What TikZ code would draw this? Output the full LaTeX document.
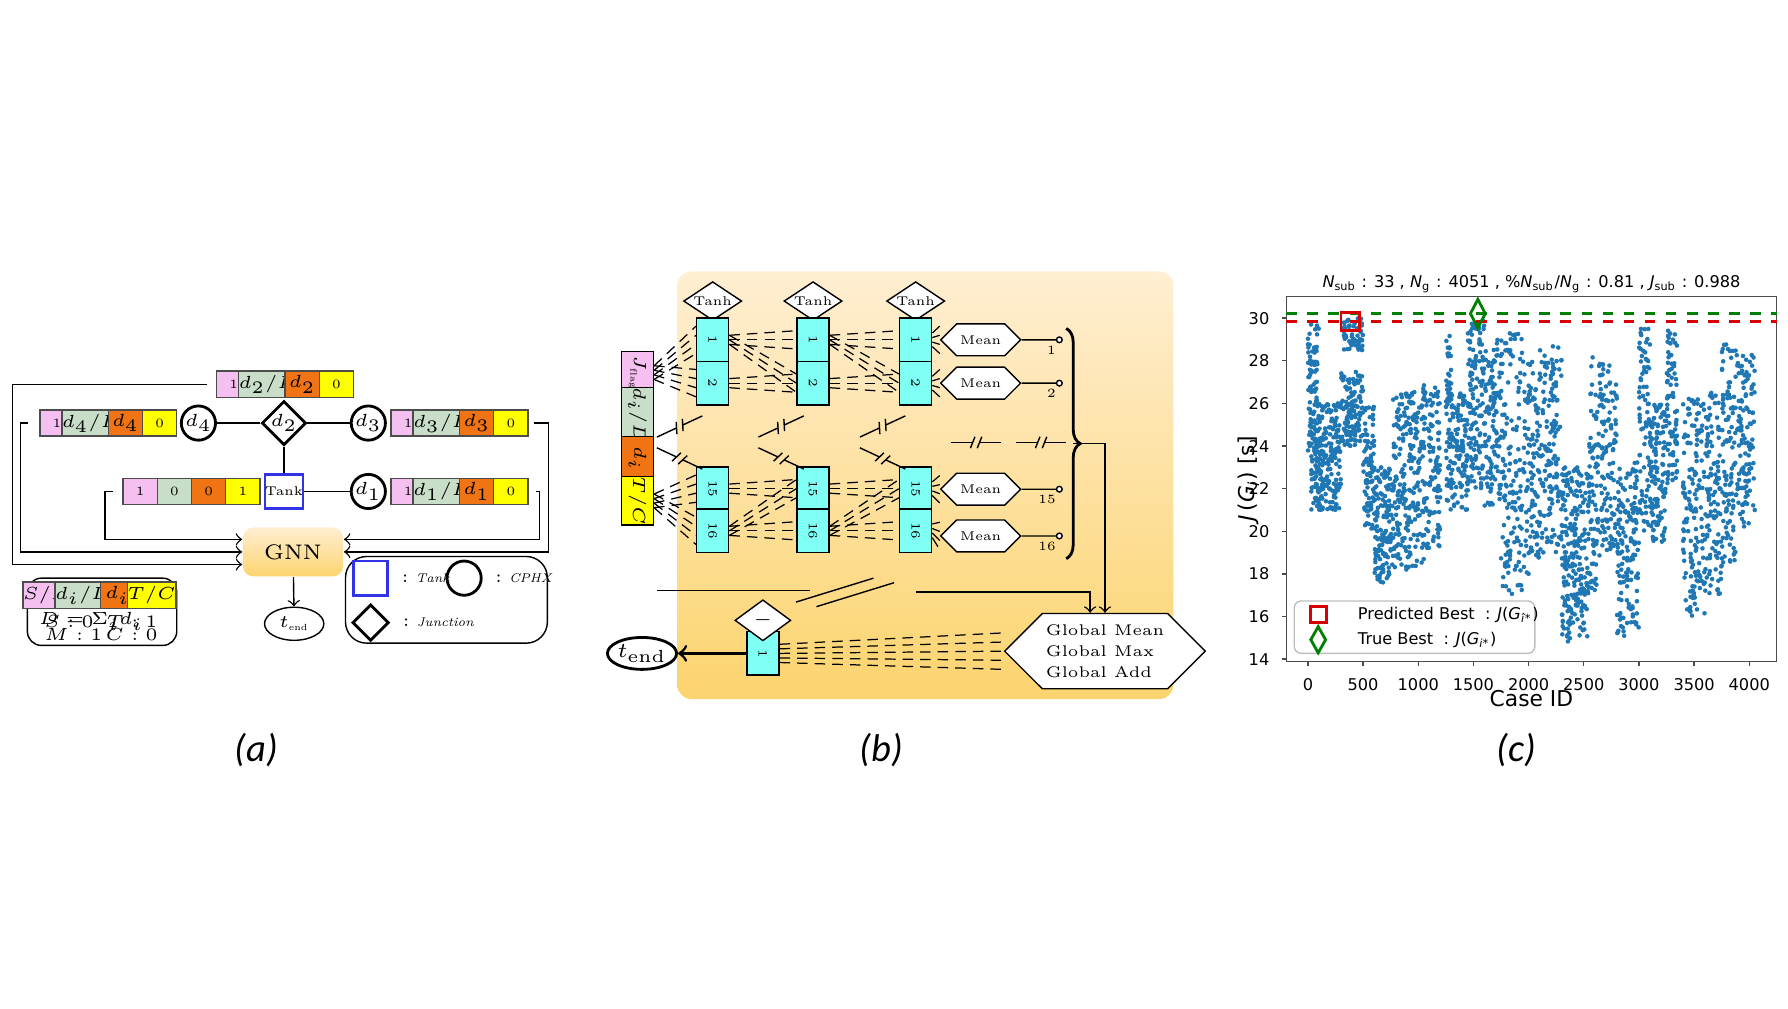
\documentclass[tikz,border=0pt]{standalone}
\usepackage{fontspec}
\newfontfamily\plotfont{DejaVu Sans}
\newfontfamily\capfont{Carlito}
\usetikzlibrary{shapes.geometric,shapes.symbols,decorations.pathreplacing}
\definecolor{pinkc}{RGB}{245,192,240}
\definecolor{greyc}{RGB}{200,222,200}
\definecolor{orangec}{RGB}{240,115,20}
\definecolor{yellowc}{RGB}{255,255,0}
\definecolor{cyanc}{RGB}{128,255,245}
\definecolor{tankc}{RGB}{50,50,230}
\definecolor{bgtop}{RGB}{255,238,210}
\definecolor{bgbot}{RGB}{252,212,110}
\definecolor{dotc}{RGB}{31,119,180}
\newcommand\un{0.11403mm}
\newcommand\featrow[7]{%
\node[cell,fill=pinkc] (#1a) at (#2+15,#3) {#4};
\node[cell,fill=greyc] (#1b) at (#2+45,#3) {#5};
\node[cell,fill=orangec] (#1c) at (#2+75,#3) {#6};
\node[cell,fill=yellowc] (#1d) at (#2+105,#3) {#7};}
\newcommand\fan[3]{%
\foreach \k in {1,...,#3}
\draw[dl] ([yshift={(\k-(#3+1)/2)*4*\un}]#1.east) -- ([yshift={(\k-(#3+1)/2)*8*\un}]#2.west);}
\newcommand\brk[3]{%
\begin{scope}[shift={(#1,#2)},rotate=#3]
\draw (-22,0) -- (-3,0) (3,0) -- (22,0);
\draw (-5,5) -- (-1,-5) (1,5) -- (5,-5);
\end{scope}}
\begin{document}
\begin{tikzpicture}[x=0.11403mm,y=-0.11403mm,
  fa/.style={font=\fontsize{3.6}{4.3}\selectfont},
  cell/.style={draw=black!70,minimum width=30*\un,minimum height=23*\un,inner sep=0pt,fa},
  cphx/.style={draw,thick,circle,minimum size=30*\un,inner sep=0pt,fill=white,fa},
  junc/.style={draw,thick,diamond,minimum width=30*\un,minimum height=30*\un,inner sep=0pt,fill=white,fa},
  unit/.style={draw,fill=cyanc,minimum width=28*\un,minimum height=38*\un,inner sep=0pt,fa},
  feat/.style={draw,minimum width=28*\un,minimum height=37.5*\un,inner sep=0pt,fa},
  act/.style={draw,diamond,aspect=1.5,fill=white,minimum width=51*\un,minimum height=34*\un,inner sep=0pt,fa},
  pool/.style={draw,signal,signal to=west and east,fill=white,minimum width=55*\un,minimum height=28*\un,inner sep=1pt,fa},
  dl/.style={densely dashed,line width=0.35pt},
  tick/.style={font=\plotfont\fontsize{4.6}{5}\selectfont},
  pcap/.style={font=\capfont\itshape\fontsize{11}{12}\selectfont}]
\useasboundingbox (0,0) rectangle (1568,884);

% (a)
\featrow{rt}{190}{337}{1}{$d_2/D$}{$d_2$}{0}
\featrow{r4}{35}{371}{1}{$d_4/D$}{$d_4$}{0}
\featrow{r3}{343}{371}{1}{$d_3/D$}{$d_3$}{0}
\featrow{rk}{108}{431}{1}{0}{0}{1}
\featrow{r1}{343}{431}{1}{$d_1/D$}{$d_1$}{0}
\node[cphx] (d4) at (174,371) {$d_4$};
\node[junc] (d2) at (249,371) {$d_2$};
\node[cphx] (d3) at (323,371) {$d_3$};
\node[draw=tankc,thick,minimum size=30*\un,inner sep=0pt,fa] (tank) at (249,431) {Tank};
\node[cphx] (d1) at (323,431) {$d_1$};
\draw (d4) -- (d2) -- (d3);
\draw (d2) -- (tank) -- (d1);
\node[rounded corners=3pt,top color=bgtop,bottom color=bgbot,minimum width=88*\un,minimum height=43*\un,font=\fontsize{6}{7}\selectfont] (gnn) at (257,484) {GNN};
\node[draw,ellipse,minimum width=52*\un,minimum height=29*\un,inner sep=0pt,fa] (tend) at (258,547) {$t_{\mathrm{end}}$};
\draw[->] (gnn) -- (tend);
\draw[->] ([xshift=-8*\un]rta.west) -- (11,337) |- ([yshift=-11*\un]gnn.west);
\draw[->] ([xshift=-10*\un]r4a.west) -- (18,371) |- (gnn.west);
\draw[->] ([xshift=-8*\un]rka.west) -- (92,431) |- ([yshift=11*\un]gnn.west);
\draw[->] ([xshift=5*\un]r3d.east) -- (481,371) |- (gnn.east);
\draw[->] ([xshift=6*\un]r1d.east) -- (473,431) |- ([yshift=11*\un]gnn.east);
\draw[rounded corners=4pt] (24,507) rectangle (155,566);
\featrow{lg}{28}{522}{$S/M$}{$d_i/D$}{$d_i$}{$T/C$}
\node[fa,anchor=west] (ls) at (28,545) {$S:0$};
\node[fa,anchor=west] (lm) at (28,556) {$M:1$};
\node[fa] (ld) at (80,545) {$D=\Sigma_i d_i$};
\node[fa,anchor=east] (lt) at (149,545) {$T:1$};
\node[fa,anchor=east] (lc) at (149,556) {$C:0$};
\draw[rounded corners=6pt] (303,488) rectangle (480,564);
\node[draw=tankc,thick,minimum size=30*\un,inner sep=0pt] (ktank) at (325,507) {};
\node[fa,anchor=west] at (ktank.east) {$:\mathit{Tank}$};
\node[draw,thick,circle,minimum size=30*\un,inner sep=0pt] (kcphx) at (407,507) {};
\node[fa,anchor=west] at (kcphx.east) {$:\mathit{CPHX}$};
\node[draw,thick,diamond,minimum size=32*\un,inner sep=0pt] (kjunc) at (325,546) {};
\node[fa,anchor=west] at (kjunc.east) {$:\mathit{Junction}$};
\node[pcap] (capa) at (225,658) {(a)};

% (b)
\shade[rounded corners=4pt,top color=bgtop,bottom color=bgbot] (594,238) rectangle (1029,613);
\foreach \c/\X in {1/625,2/713,3/803}{
  \node[act] (t\c) at (\X,264) {Tanh};
  \node[unit] (a\c) at (\X,298) {\rotatebox{-90}{1}};
  \node[unit] (b\c) at (\X,336) {\rotatebox{-90}{2}};
  \node[unit] (p\c) at (\X,428.5) {\rotatebox{-90}{15}};
  \node[unit] (q\c) at (\X,465.5) {\rotatebox{-90}{16}};
}
\node[feat,fill=pinkc] (f1) at (559,326.75) {\rotatebox{-90}{$J_{\mathrm{flag}}$}};
\node[feat,fill=greyc] (f2) at (559,364.25) {\rotatebox{-90}{$d_i/D$}};
\node[feat,fill=orangec] (f3) at (559,401.75) {\rotatebox{-90}{$d_i$}};
\node[feat,fill=yellowc] (f4) at (559,439.25) {\rotatebox{-90}{$T/C$}};
\fan{f1}{a1}{4}\fan{f1}{b1}{4}\fan{f4}{p1}{4}\fan{f4}{q1}{4}
\foreach \c/\d in {1/2,2/3}{
  \fan{a\c}{a\d}{3}\fan{a\c}{b\d}{3}\fan{b\c}{b\d}{3}
  \fan{p\c}{p\d}{3}\fan{q\c}{p\d}{3}\fan{q\c}{q\d}{3}
}
\foreach \s/\m/\Y/\l in {a3/m1/298/1,b3/m2/336/2,p3/m3/429/15,q3/m4/470/16}{
  \node[pool] (\m) at (860,\Y) {Mean};
  \fan{\s}{\m}{4}
  \node[draw,circle,fill=white,minimum size=5*\un,inner sep=0pt,label={[fa,inner sep=0.5pt]-110:\l}] (o\m) at (929,\Y) {};
  \draw (\m) -- (o\m);
}
\foreach \X in {596,685,774}{\brk{\X}{374}{25}\brk{\X}{402}{-25}}
\brk{856}{388}{0}\brk{913}{388}{0}
\draw[thick,decorate,decoration={brace,amplitude=4pt}] (935,288) -- (935,490);
\coordinate (br) at (941,389);
\node[pool,minimum width=113*\un,minimum height=66*\un,align=left,font=\fontsize{4.4}{6}\selectfont] (glob) at (969,571) {Global Mean\\Global Max\\Global Add};
\draw[->] (br) -| (glob.north);
\coordinate (g1) at (576,518);
\coordinate (g2) at (710,518);
\coordinate (g3) at (803,519);
\draw (g1) -- (g2);
\draw (698,528) -- (766,507) (716,532) -- (784,511);
\draw[->] (g3) -| ([xshift=-13*\un]glob.north);
\node[unit] (out) at (669,573) {\rotatebox{-90}{1}};
\node[act,minimum width=49*\un,minimum height=36*\un] (neg) at (669,544) {$-$};
\node[draw,thick,ellipse,minimum width=46*\un,minimum height=28*\un,inner sep=0pt,font=\fontsize{6}{7}\selectfont] (tendb) at (563,573) {$t_{\mathrm{end}}$};
\draw[thick,->] (out) -- (tendb);
\fan{out}{glob}{5}
\node[pcap] (capb) at (773,658) {(b)};

% (c)
\draw[black!70] (1128,260) rectangle (1558,580);
\pgfmathsetseed{11}
\foreach \a/\b/\lo/\hi/\n in {
  0/100/23.7/29.8/100, 30/120/21/25/60, 100/300/21/26/160, 300/500/24/27.5/130,
  320/500/28.5/30/60, 500/600/20/26/80, 600/750/17.5/23/130, 750/900/18/26.5/120,
  900/1050/18.3/26.7/120, 1050/1200/19/27/110, 1250/1300/21/30/60, 1300/1450/21/26.5/110,
  1450/1600/22/30/130, 1600/1750/21/29/110, 1750/1950/17/29.3/140, 1950/2100/18/28/110,
  2100/2300/19/28.7/140, 2300/2400/14.7/23/100, 2400/2550/15/23/130, 2550/2650/17/28.8/80,
  2650/2800/19/28/110, 2800/3000/15/23.5/150, 3000/3100/20/29.8/80, 3100/3250/19.5/26/130,
  3250/3350/22/30/80, 3400/3600/16/26.3/150, 3600/3750/17/26.5/110, 3750/3900/18.5/29/110,
  3900/4050/20/28.3/110}{
  \foreach \k in {1,...,\n}{
    \pgfmathsetmacro\cx{\a+rnd*(\b-\a)}
    \pgfmathsetmacro\cy{\lo+rnd*(\hi-\lo)}
    \fill[dotc] ({1147+\cx*0.09675},{279+(30-\cy)*18.69}) circle[radius=0.65pt];
  }
}
\draw[red!85!black,dashed,thick] (1128,282) -- (1558,282);
\draw[green!50!black,dashed,thick] (1128,275) -- (1558,275);
\node[draw=red!85!black,thick,minimum size=16*\un,inner sep=0pt] (pbest) at (1184,282) {};
\node[draw=green!50!black,thick,diamond,minimum width=14*\un,minimum height=26*\un,inner sep=0pt] (tbest) at (1296,275) {};
\foreach \v in {0,500,...,4000}{
  \draw[black!70] ({1147+\v*0.09675},580) -- ({1147+\v*0.09675},584);
  \node[tick,anchor=north] at ({1147+\v*0.09675},584) {\v};
}
\foreach \v in {14,16,...,30}{
  \draw[black!70] (1124,{279+(30-\v)*18.69}) -- (1128,{279+(30-\v)*18.69});
  \node[tick,anchor=east] at (1124,{279+(30-\v)*18.69}) {\v};
}
\node[tick] (title) at (1343,249) {\textit{N}\textsubscript{sub} : 33 , \textit{N}\textsubscript{g} : 4051 , \%\textit{N}\textsubscript{sub}/\textit{N}\textsubscript{g} : 0.81 , \textit{J}\textsubscript{sub} : 0.988};
\node[font=\plotfont\fontsize{6.2}{7}\selectfont] (xlab) at (1343,613) {Case ID};
\node[font=\plotfont\fontsize{6.2}{7}\selectfont,rotate=90] (ylab) at (1095,420) {\textit{J}\,(\textit{G}\textsubscript{\textit{i}}) [s]};
\draw[black!25,fill=white,fill opacity=0.85,rounded corners=2pt] (1135,527) rectangle (1346,573);
\node[draw=red!85!black,thick,minimum size=14*\un,inner sep=0pt] (lp) at (1156,539) {};
\node[draw=green!50!black,thick,diamond,minimum width=14*\un,minimum height=24*\un,inner sep=0pt] (lq) at (1156,561) {};
\node[tick,anchor=west] at (1180,539) {Predicted Best \ : \textit{J}(\textit{G}\textsubscript{\textit{\^{i}}*})};
\node[tick,anchor=west] at (1180,561) {True Best \ : \textit{J}(\textit{G}\textsubscript{\textit{i}*})};
\node[pcap] (capc) at (1330,658) {(c)};
\end{tikzpicture}
\end{document}
